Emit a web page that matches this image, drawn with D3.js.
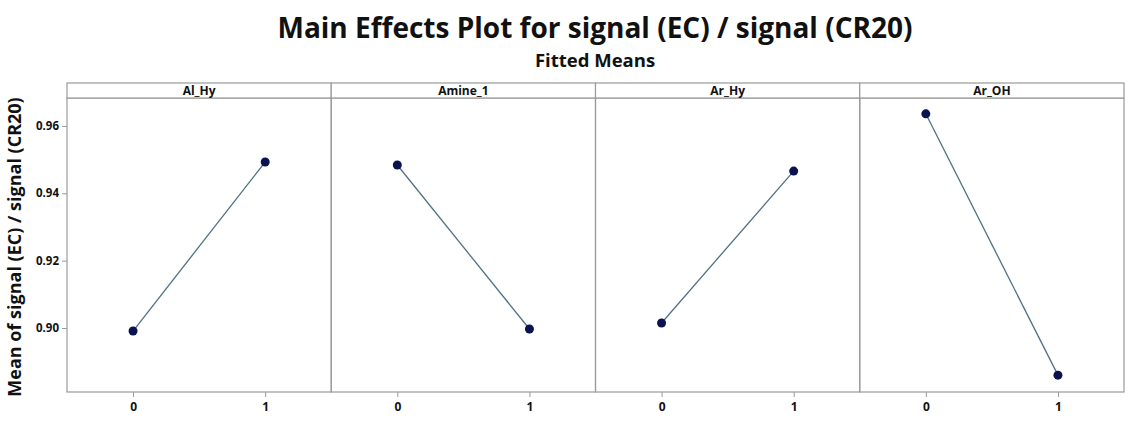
<!DOCTYPE html>
<html>
<head>
<meta charset="utf-8">
<script src="https://cdn.jsdelivr.net/npm/d3@7"></script>
<style>
  body { margin: 0; background: #fff; }
  text { font-family: "Open Sans", "Noto Sans", sans-serif; fill: #111; }
</style>
</head>
<body>
<div id="root"></div>
<script>
const factors = ['Al_Hy', 'Amine_1', 'Ar_Hy', 'Ar_OH'];
const levels = [0, 1];
const means = [
  [0.8991, 0.9493],
  [0.9484, 0.8997],
  [0.9015, 0.9466],
  [0.9636, 0.8860],
];
const yTicks = [0.90, 0.92, 0.94, 0.96];

const width = 1129;
const height = 439;
const left = 67, right = 1124, stripTop = 83, stripH = 15, bottom = 392;
const plotTop = stripTop + stripH;
const panelW = (right - left) / factors.length;

const svg = d3.select('#root')
  .append('svg')
  .attr('width', width)
  .attr('height', height);

// titles
svg.append('text')
  .attr('x', 595).attr('y', 38)
  .attr('text-anchor', 'middle')
  .attr('font-size', 28)
  .attr('font-weight', 700)
  .text('Main Effects Plot for signal (EC) / signal (CR20)');
svg.append('text')
  .attr('x', 595).attr('y', 67)
  .attr('text-anchor', 'middle')
  .attr('font-size', 18.5)
  .attr('font-weight', 700)
  .text('Fitted Means');

const y = d3.scaleLinear().domain([0.881, 0.9683]).range([bottom, plotTop]);

// y axis
const yAxis = svg.append('g')
  .attr('transform', `translate(${left},0)`)
  .call(d3.axisLeft(y).tickValues(yTicks).tickFormat(d3.format('.2f')).tickSize(5).tickPadding(3));
yAxis.select('.domain').remove();
yAxis.selectAll('line').attr('stroke', '#999');
yAxis.selectAll('text').attr('font-size', 11.5).attr('font-weight', 700).attr('fill', '#222');

svg.append('text')
  .attr('transform', `translate(21,${(plotTop + bottom) / 2 + 2}) rotate(-90)`)
  .attr('text-anchor', 'middle')
  .attr('font-size', 18)
  .attr('font-weight', 700)
  .text('Mean of signal (EC) / signal (CR20)');

factors.forEach((f, i) => {
  const x0 = left + i * panelW;
  const x = d3.scaleLinear().domain([-0.5, 1.5]).range([x0, x0 + panelW]);
  const g = svg.append('g');

  // x axis
  const xAxis = g.append('g')
    .attr('transform', `translate(0,${bottom})`)
    .call(d3.axisBottom(x).tickValues(levels).tickFormat(d3.format('d')).tickSize(5).tickPadding(5));
  xAxis.select('.domain').remove();
  xAxis.selectAll('line').attr('stroke', '#999');
  xAxis.selectAll('text').attr('font-size', 12).attr('font-weight', 700).attr('fill', '#222');

  // panel + strip
  g.append('rect')
    .attr('x', x0).attr('y', plotTop)
    .attr('width', panelW).attr('height', bottom - plotTop)
    .attr('fill', 'none').attr('stroke', '#9a9a9a').attr('stroke-width', 1.2);
  g.append('rect')
    .attr('x', x0).attr('y', stripTop)
    .attr('width', panelW).attr('height', stripH)
    .attr('fill', '#fff').attr('stroke', '#9a9a9a').attr('stroke-width', 1.2);
  g.append('text')
    .attr('x', x0 + panelW / 2).attr('y', stripTop + stripH - 3)
    .attr('text-anchor', 'middle')
    .attr('font-size', 12)
    .attr('font-weight', 700)
    .text(f);

  const pts = levels.map((l, k) => [x(l), y(means[i][k])]);
  g.append('path')
    .attr('d', d3.line()(pts))
    .attr('fill', 'none')
    .attr('stroke', '#4f7184')
    .attr('stroke-width', 1.3);
  g.selectAll('circle')
    .data(pts)
    .enter()
    .append('circle')
    .attr('cx', d => d[0])
    .attr('cy', d => d[1])
    .attr('r', 4.5)
    .attr('fill', '#0b1250');
});
</script>
</body>
</html>
